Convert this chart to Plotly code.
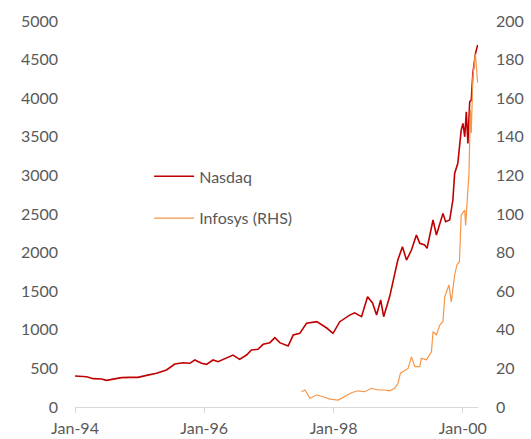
import plotly.graph_objects as go

# Nasdaq (left axis)
nasdaq_dates = [
    "1994-01-01", "1994-03-08", "1994-04-14", "1994-05-31", "1994-06-28", "1994-08-04",
    "1994-09-21", "1994-11-06", "1994-12-23", "1995-02-09", "1995-04-07", "1995-06-02",
    "1995-07-19", "1995-09-04", "1995-10-12", "1995-11-09", "1995-12-17", "1996-01-14",
    "1996-02-20", "1996-03-19", "1996-04-26", "1996-06-12", "1996-07-19", "1996-08-27",
    "1996-09-24", "1996-10-31", "1996-11-29", "1997-01-06", "1997-02-03", "1997-03-03",
    "1997-04-19", "1997-05-18", "1997-06-24", "1997-08-01", "1997-09-28", "1997-11-23",
    "1997-12-29", "1998-02-05", "1998-04-02", "1998-04-30", "1998-06-08", "1998-07-12",
    "1998-08-09", "1998-09-01", "1998-09-24", "1998-10-11", "1998-11-14", "1998-12-01",
    "1998-12-30", "1999-01-25", "1999-02-17", "1999-03-17", "1999-04-14", "1999-05-03",
    "1999-05-31", "1999-06-13", "1999-07-08", "1999-07-17", "1999-08-05", "1999-09-02",
    "1999-09-11", "1999-09-26", "1999-10-19", "1999-11-06", "1999-11-16", "1999-12-04",
    "1999-12-23", "2000-01-02", "2000-01-12", "2000-01-21", "2000-01-30", "2000-02-09",
    "2000-02-18", "2000-02-27", "2000-03-13", "2000-03-25",
]
nasdaq_values = [
    401, 392, 367, 363, 345, 363,
    380, 384, 384, 410, 436, 479,
    557, 574, 566, 609, 566, 553,
    609, 587, 630, 673, 617, 673,
    738, 747, 812, 833, 897, 833,
    790, 932, 954, 1084, 1105, 1023,
    954, 1105, 1190, 1220, 1170, 1428,
    1347, 1191, 1386, 1170, 1430, 1623,
    1903, 2076, 1903, 2033, 2227, 2120,
    2098, 2055, 2314, 2422, 2227, 2465,
    2508, 2400, 2422, 2681, 3026, 3156,
    3587, 3674, 3500, 3824, 3415, 3953,
    3976, 4321, 4580, 4690,
]

# Infosys (right axis)
infosys_dates = [
    "1997-07-04", "1997-07-23", "1997-08-20", "1997-09-27", "1997-11-03", "1997-12-11",
    "1998-01-27", "1998-03-05", "1998-04-12", "1998-05-19", "1998-06-26", "1998-08-03",
    "1998-09-09", "1998-10-17", "1998-11-14", "1998-12-12", "1998-12-31", "1999-01-14",
    "1999-01-29", "1999-02-26", "1999-03-17", "1999-04-05", "1999-05-03", "1999-05-12",
    "1999-06-10", "1999-07-08", "1999-07-17", "1999-08-05", "1999-08-24", "1999-09-11",
    "1999-09-21", "1999-10-15", "1999-10-28", "1999-11-16", "1999-11-29", "1999-12-13",
    "1999-12-23", "2000-01-12", "2000-01-17", "2000-02-05", "2000-02-13", "2000-02-18",
    "2000-02-27", "2000-03-12", "2000-03-25",
]
infosys_values = [
    7.9, 8.8, 4.5, 6.2, 5.3, 4.1,
    3.6, 5.3, 7.4, 8.4, 7.9, 9.7,
    8.8, 8.8, 8.4, 9.7, 12.3, 17.5,
    18.3, 20.0, 26.0, 20.9, 20.9, 25.2,
    24.4, 28.6, 39.0, 37.3, 42.5, 44.2,
    57.1, 63.2, 54.5, 68.4, 73.6, 75.3,
    99.5, 102.0, 94.0, 121.0, 154.0, 142.0,
    171.0, 183.0, 168.0,
]

x_tick_vals = ["1994-01-01", "1996-01-01", "1998-01-01", "2000-01-01"]
x_tick_text = ["Jan-94", "Jan-96", "Jan-98", "Jan-00"]

font_family = "Lato, 'Liberation Sans', sans-serif"
grey = "#595959"

fig = go.Figure()
fig.add_trace(go.Scatter(
    x=nasdaq_dates, y=nasdaq_values, name="Nasdaq", mode="lines",
    line=dict(color="#C00000", width=1.6), legendgroup="a",
))
fig.add_trace(go.Scatter(
    x=infosys_dates, y=infosys_values, name="Infosys (RHS)", mode="lines",
    line=dict(color="#F79646", width=1.2), yaxis="y2", legendgroup="b",
))

fig.update_layout(
    width=531, height=439,
    margin=dict(l=75, r=53, t=21, b=32, autoexpand=False),
    paper_bgcolor="white", plot_bgcolor="white",
    font=dict(family=font_family, size=16, color=grey),
    showlegend=True,
    legend=dict(
        x=0.184, y=0.543, xanchor="left", yanchor="middle",
        bgcolor="rgba(0,0,0,0)", borderwidth=0, itemwidth=40,
        tracegroupgap=18, font=dict(size=16, color=grey),
    ),
    xaxis=dict(
        type="date", range=["1994-01-01", "2000-03-27"],
        tickvals=x_tick_vals, ticktext=x_tick_text,
        showgrid=False, zeroline=False, automargin=False,
        showline=True, linecolor="#D9D9D9", linewidth=1,
        ticks="outside", ticklen=5, tickcolor="#D9D9D9",
        ticklabelstandoff=2,
    ),
    yaxis=dict(
        range=[0, 5000], dtick=500, showgrid=False, zeroline=False,
        showline=False, ticks="", ticklabelstandoff=16, automargin=False,
    ),
    yaxis2=dict(
        range=[0, 200], dtick=20, overlaying="y", side="right",
        showgrid=False, zeroline=False, showline=False, ticks="",
        ticklabelstandoff=17, automargin=False,
    ),
)

fig.write_html(
    "out.html",
    config={"displayModeBar": False},
    post_script="document.body.style.margin='0';document.body.style.overflow='hidden';",
)
